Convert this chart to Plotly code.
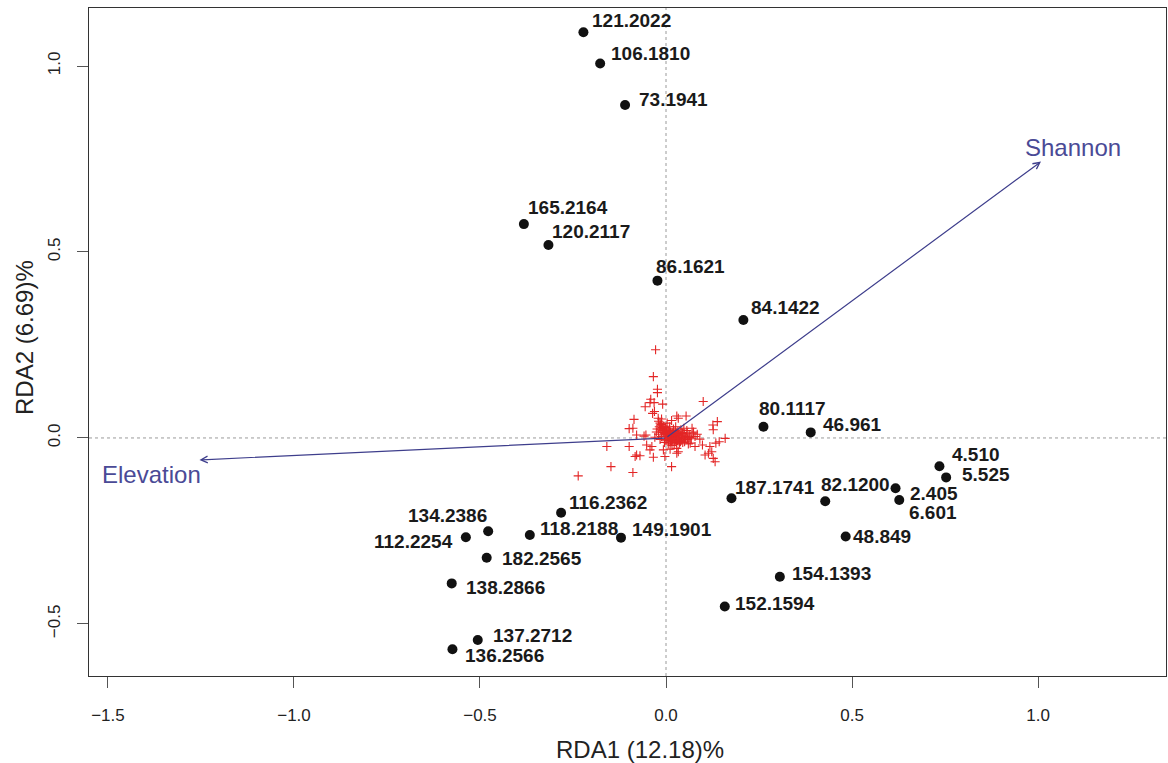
import plotly.graph_objects as go

# ---- site scores (black dots) ----
site_labels = ["121.2022", "106.1810", "73.1941", "165.2164", "120.2117", "86.1621",
               "84.1422", "80.1117", "46.961", "4.510", "5.525", "2.405", "6.601",
               "82.1200", "187.1741", "48.849", "154.1393", "152.1594", "116.2362",
               "134.2386", "112.2254", "118.2188", "149.1901", "182.2565", "138.2866",
               "137.2712", "136.2566"]
site_x = [-0.222, -0.177, -0.110, -0.382, -0.316, -0.023, 0.208, 0.262, 0.389, 0.735,
          0.753, 0.617, 0.627, 0.428, 0.176, 0.483, 0.306, 0.158, -0.282, -0.478,
          -0.538, -0.366, -0.121, -0.482, -0.576, -0.506, -0.574]
site_y = [1.091, 1.007, 0.895, 0.575, 0.519, 0.423, 0.317, 0.030, 0.015, -0.076,
          -0.106, -0.135, -0.167, -0.170, -0.162, -0.265, -0.373, -0.453, -0.201, -0.251,
          -0.267, -0.261, -0.268, -0.322, -0.391, -0.543, -0.568]

# ---- species scores (red crosses) ----
species_x = [-0.028, -0.034, -0.023, -0.023, -0.041, -0.043, -0.032, -0.056, -0.009, -0.036,
             -0.031, -0.086, -0.021, -0.012, 0.100, 0.015, 0.029, 0.033, 0.054, 0.126,
             0.127, 0.138, -0.089, -0.059, -0.054, -0.079, 0.073, 0.078, 0.091, 0.134,
             0.143, 0.159, 0.098, 0.118, 0.123, 0.114, 0.127, 0.105, 0.132, -0.052,
             -0.043, -0.038, -0.079, -0.083, -0.070, -0.034, -0.007, -0.003, 0.029, 0.033,
             0.029, 0.011, 0.015, -0.089, 0.065, 0.078, -0.159, -0.099, -0.148, -0.236,
             -0.099,
             -0.020, -0.016, -0.012, -0.018, -0.010, -0.006, -0.014, -0.004, 0.000, -0.008,
             0.002, 0.006, 0.010, 0.004, 0.012, 0.016, 0.020, 0.008, 0.014, 0.018,
             0.022, 0.026, 0.030, 0.024, 0.034, 0.028, 0.038, 0.042, 0.036, 0.046,
             0.050, 0.044, 0.054, 0.058, 0.062, 0.032, 0.040, 0.048, 0.020, 0.000,
             -0.004, 0.006, 0.012, 0.016, 0.022, -0.012, -0.020, -0.026, -0.030, -0.016,
             0.068, 0.074, 0.056, 0.010, 0.026, 0.060, 0.070, 0.084, 0.003, -0.024,
             0.005, 0.009, 0.013, 0.017, 0.021, 0.025, 0.029, 0.033, 0.037, 0.041,
             0.007, 0.011, 0.015, 0.019, 0.023, 0.027, 0.031, 0.035, 0.039, 0.003,
             -0.002, 0.001, 0.005, 0.009, 0.013, 0.017, 0.021, 0.025, 0.045, 0.049,
             -0.015, -0.011, -0.007, -0.003, 0.052, 0.057, 0.064, 0.043, 0.035, -0.001]
species_y = [0.237, 0.165, 0.131, 0.122, 0.104, 0.095, 0.095, 0.084, 0.091, 0.066,
             0.071, 0.050, 0.053, 0.051, 0.098, 0.047, 0.059, 0.053, 0.059, 0.035,
             0.022, 0.044, 0.026, 0.005, 0.008, 0.008, 0.013, 0.004, -0.003, -0.014,
             -0.010, -0.001, -0.019, -0.023, -0.037, -0.041, -0.055, -0.046, -0.064, -0.019,
             -0.032, -0.023, -0.046, -0.050, -0.048, -0.052, -0.032, -0.050, -0.028, -0.037,
             -0.041, -0.030, -0.077, -0.093, -0.014, -0.023, -0.023, -0.023, -0.077, -0.102,
             0.025,
             0.045, 0.040, 0.036, 0.030, 0.028, 0.032, 0.022, 0.020, 0.024, 0.015,
             0.012, 0.018, 0.010, 0.004, 0.016, 0.008, 0.012, -0.002, 0.002, -0.004,
             0.004, 0.010, 0.002, -0.008, -0.002, -0.012, 0.006, -0.006, -0.014, 0.002,
             -0.010, 0.012, 0.004, -0.004, 0.008, 0.018, 0.022, 0.026, 0.024, -0.006,
             -0.012, -0.016, -0.010, -0.020, -0.016, 0.004, 0.010, 0.016, 0.002, -0.004,
             -0.002, 0.016, 0.020, 0.030, 0.030, -0.016, 0.026, 0.010, 0.040, 0.024,
             0.006, 0.001, 0.005, 0.003, 0.008, -0.003, 0.006, 0.011, -0.006, 0.000,
             -0.006, -0.004, -0.008, 0.007, -0.001, 0.014, -0.007, 0.009, -0.010, 0.009,
             0.003, 0.016, 0.020, 0.024, -0.005, 0.013, 0.017, 0.020, -0.012, 0.008,
             0.035, 0.026, 0.019, 0.011, -0.002, 0.013, 0.001, 0.015, -0.008, 0.028]

# ---- environmental vectors ----
env_names = ["Elevation", "Shannon"]
env_x = [-1.254, 1.008]
env_y = [-0.059, 0.743]
env_label_x = [-1.383, 1.094]
env_label_y = [-0.099, 0.781]

x_ticks = [-1.5, -1.0, -0.5, 0.0, 0.5, 1.0]
y_ticks = [-0.5, 0.0, 0.5, 1.0]
x_title = "RDA1 (12.18)%"
y_title = "RDA2 (6.69)%"

# label placement (pixel offsets, styling only)
label_anchor = ["left"] * 19 + ["right", "right"] + ["left"] * 6
label_dx = [7, 9, 12, 2, 2, -3, 6, -6, 10, 11, 14, 12, 8, -6, 2, 5, 10, 8, 6,
            1, -11, 8, 9, 13, 12, 13, 11]
label_dy = [12, 10, 6, 17, 13, 14, 13, 18, 8, 12, 3, -5, -12, 17, 11, 0, 3, 3, 10,
            16, -4, 7, 8, -1, -4, 4, -6]

FONT = "Arial, Liberation Sans, sans-serif"
VEC = "#3e3e8c"
VEC_TXT = "#4a4a96"

fig = go.Figure()

fig.add_trace(go.Scatter(
    x=species_x, y=species_y, mode="markers",
    marker=dict(symbol="cross-thin", size=6.5, line=dict(color="#e32626", width=1.1)),
    hoverinfo="skip", showlegend=False))

fig.add_trace(go.Scatter(
    x=site_x, y=site_y, mode="markers", text=site_labels,
    marker=dict(symbol="circle", size=10, color="#111111"),
    showlegend=False))

# zero reference lines (dotted)
fig.add_shape(type="line", xref="x", yref="paper", x0=0, x1=0, y0=0, y1=1,
              line=dict(color="#9a9a9a", width=1, dash="dot"), layer="below")
fig.add_shape(type="line", xref="paper", yref="y", x0=0, x1=1, y0=0, y1=0,
              line=dict(color="#9a9a9a", width=1, dash="dot"), layer="below")

annotations = []
for lab, x, y, anc, dx, dy in zip(site_labels, site_x, site_y, label_anchor, label_dx, label_dy):
    annotations.append(dict(x=x, y=y, xref="x", yref="y", text=lab, showarrow=False,
                            xanchor=anc, yanchor="middle", xshift=dx, yshift=dy,
                            font=dict(family=FONT, size=19, color="#1a1a1a", weight="bold")))

for name, ex, ey, lx, ly in zip(env_names, env_x, env_y, env_label_x, env_label_y):
    annotations.append(dict(x=ex, y=ey, ax=0, ay=0, xref="x", yref="y", axref="x", ayref="y",
                            text="", showarrow=True, arrowhead=5, arrowsize=1.1,
                            arrowwidth=1.2, arrowcolor=VEC, standoff=0))
    annotations.append(dict(x=lx, y=ly, xref="x", yref="y", text=name, showarrow=False,
                            xanchor="center", yanchor="middle",
                            font=dict(family=FONT, size=24, color=VEC_TXT)))

annotations.append(dict(x=0.512, y=0, xref="paper", yref="paper", text=x_title,
                        showarrow=False, xanchor="center", yanchor="middle", yshift=-73,
                        font=dict(family=FONT, size=24, color="#222222")))
annotations.append(dict(x=0, y=0.506, xref="paper", yref="paper", text=y_title,
                        showarrow=False, xanchor="center", yanchor="middle", xshift=-64,
                        textangle=-90, font=dict(family=FONT, size=24, color="#222222")))

fig.update_layout(
    width=1168, height=763,
    margin=dict(l=89, r=2, t=8, b=87),
    paper_bgcolor="white", plot_bgcolor="white",
    annotations=annotations,
    font=dict(family=FONT),
)

fig.update_xaxes(range=[-1.551, 1.344], tickvals=x_ticks,
                 ticktext=["\u22121.5", "\u22121.0", "\u22120.5", "0.0", "0.5", "1.0"],
                 showgrid=False, zeroline=False, showline=True, linecolor="#333333",
                 linewidth=1.4, mirror=True, ticks="outside", ticklen=11, tickwidth=1.3,
                 tickcolor="#555555", ticklabelstandoff=12,
                 tickfont=dict(family=FONT, size=17, color="#222222"))
fig.update_yaxes(range=[-0.640, 1.156], tickvals=y_ticks,
                 ticktext=["\u22120.5", "0.0", "0.5", "1.0"],
                 showgrid=False, zeroline=False, showline=True, linecolor="#333333",
                 linewidth=1.4, mirror=True, ticks="outside", ticklen=11, tickwidth=1.3,
                 tickcolor="#555555", tickangle=-90, ticklabelstandoff=10,
                 tickfont=dict(family=FONT, size=17, color="#222222"))

fig.write_html("out.html")
